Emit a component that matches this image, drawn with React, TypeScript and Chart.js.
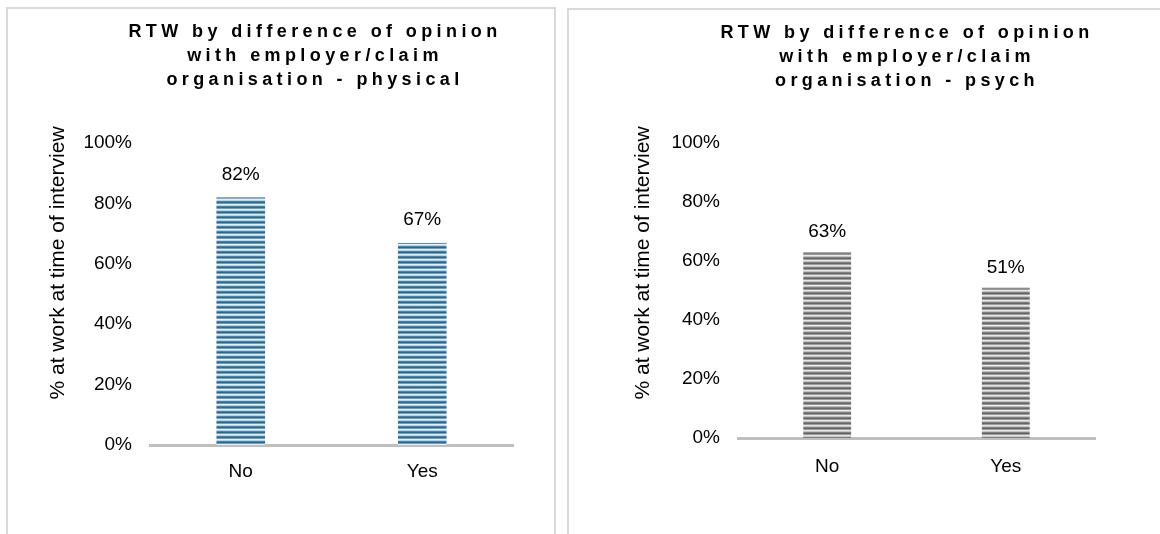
import React, { useEffect, useRef } from "react";
import { Chart, registerables } from "chart.js";

Chart.register(...registerables);

const categories = ["No", "Yes"];
const physicalValues = [0.82, 0.67];
const psychValues = [0.63, 0.51];
const yTickValues = [0, 0.2, 0.4, 0.6, 0.8, 1];
const physicalTitle = ["RTW by difference of opinion", "with employer/claim", "organisation - physical"];
const psychTitle = ["RTW by difference of opinion", "with employer/claim", "organisation - psych"];
const yAxisTitle = "% at work at time of interview";

const FONT = "'Liberation Sans', Arial, sans-serif";
const TEXT_SIZE = 19;

const blueStripes = ["#2b6890", "#6d9fbe", "#e4eff6", "#b7d2e3", "#4a82a8"];
const grayStripes = ["#666666", "#9a9a9a", "#e8e8e8", "#c4c4c4", "#808080"];

function makePattern(ctx: CanvasRenderingContext2D, colors: string[]) {
  const tile = document.createElement("canvas");
  tile.width = 4;
  tile.height = colors.length;
  const t = tile.getContext("2d")!;
  colors.forEach((c, i) => {
    t.fillStyle = c;
    t.fillRect(0, i, 4, 1);
  });
  return ctx.createPattern(tile, "repeat")!;
}

type PanelProps = {
  title: string[];
  values: number[];
  stripes: string[];
  edge: string;
  left: number;
  top: number;
  width: number;
  canvasW: number;
  yWidth: number;
  rightPad: number;
  topPad: number;
  xHeight: number;
  titleCenter: number;
  yTitleX: number;
  yTitleY: number;
  labelOffset: number;
  xPad: number;
};

function Panel(p: PanelProps) {
  const ref = useRef<HTMLCanvasElement>(null);
  useEffect(() => {
    const canvas = ref.current!;
    const ctx = canvas.getContext("2d")!;
    const pattern = makePattern(ctx, p.stripes);
    const valueLabels = {
      id: "valueLabels",
      afterDatasetsDraw(chart: any) {
        const c = chart.ctx;
        const meta = chart.getDatasetMeta(0);
        c.save();
        c.font = `${TEXT_SIZE}px ${FONT}`;
        c.fillStyle = "#000";
        c.textAlign = "center";
        c.textBaseline = "middle";
        meta.data.forEach((bar: any, i: number) => {
          c.fillText(Math.round(p.values[i] * 100) + "%", bar.x, bar.y - p.labelOffset);
        });
        c.restore();
      },
    };
    const yTitle = {
      id: "yTitle",
      afterDraw(chart: any) {
        const c = chart.ctx;
        c.save();
        c.font = `${TEXT_SIZE + 2}px ${FONT}`;
        c.fillStyle = "#000";
        c.textAlign = "center";
        c.textBaseline = "middle";
        c.translate(p.yTitleX, p.yTitleY);
        c.rotate(-Math.PI / 2);
        c.fillText(yAxisTitle, 0, 0);
        c.restore();
      },
    };
    const chart = new Chart(ctx, {
      type: "bar",
      data: {
        labels: categories,
        datasets: [
          {
            data: p.values,
            backgroundColor: pattern,
            borderColor: p.edge,
            borderWidth: { top: 1, left: 0, right: 0, bottom: 0 },
            barPercentage: 0.27,
            categoryPercentage: 1,
          },
        ],
      },
      options: {
        responsive: false,
        animation: false,
        maintainAspectRatio: false,
        layout: { padding: { left: 0, right: p.rightPad, top: p.topPad, bottom: 0 } },
        plugins: { legend: { display: false }, tooltip: { enabled: false }, title: { display: false } },
        scales: {
          x: {
            grid: { display: false, drawTicks: false },
            border: { display: true, color: "#bfbfbf", width: 3 },
            ticks: { font: { family: FONT, size: TEXT_SIZE }, color: "#000", padding: p.xPad },
            afterFit: (s: any) => {
              s.height = p.xHeight;
            },
          },
          y: {
            min: 0,
            max: 1,
            afterBuildTicks: (s: any) => {
              s.ticks = yTickValues.map((v) => ({ value: v }));
            },
            ticks: {
              callback: (v: any) => Math.round(Number(v) * 100) + "%",
              font: { family: FONT, size: TEXT_SIZE },
              color: "#000",
              padding: 18,
            },
            grid: { display: false, drawTicks: false },
            border: { display: false },
            afterFit: (s: any) => {
              s.width = p.yWidth;
            },
          },
        },
      },
      plugins: [valueLabels, yTitle],
    });
    return () => chart.destroy();
  }, []);

  return (
    <div
      style={{
        position: "absolute",
        left: p.left,
        top: p.top,
        width: p.width,
        height: 600,
        border: "2px solid #d9d9d9",
        boxSizing: "border-box",
        background: "#fff",
      }}
    >
      <canvas
        ref={ref}
        width={p.canvasW}
        height={534 - p.top}
        style={{ position: "absolute", left: -2, top: -2, width: p.canvasW, height: 534 - p.top }}
      />
      <div
        style={{
          position: "absolute",
          left: p.titleCenter - 250,
          width: 500,
          top: 10,
          textAlign: "center",
          fontFamily: FONT,
          fontWeight: "bold",
          fontSize: 18,
          letterSpacing: 4.4,
          lineHeight: "24px",
          color: "#000",
        }}
      >
        {p.title.map((l, i) => (
          <div key={i}>{l}</div>
        ))}
      </div>
    </div>
  );
}

export default function App() {
  return (
    <div style={{ position: "fixed", left: 0, top: 0, width: 1160, height: 534, overflow: "hidden", background: "#fff" }}>
      <Panel
        title={physicalTitle}
        values={physicalValues}
        stripes={blueStripes}
        edge="#2b6890"
        left={6}
        top={7}
        width={550}
        canvasW={550}
        yWidth={150 - 6}
        rightPad={550 - (513 - 6)}
        topPad={143 - 7}
        xHeight={534 - 445}
        titleCenter={313 - 6}
        yTitleX={58 - 6}
        yTitleY={263 - 7}
        labelOffset={23}
        xPad={15}
      />
      <Panel
        title={psychTitle}
        values={psychValues}
        stripes={grayStripes}
        edge="#666666"
        left={567}
        top={8}
        width={600}
        canvasW={593}
        yWidth={738 - 567}
        rightPad={593 - (1095 - 567)}
        topPad={143 - 8}
        xHeight={534 - 438}
        titleCenter={905 - 567}
        yTitleX={643 - 567}
        yTitleY={263 - 8}
        labelOffset={20}
        xPad={17}
      />
    </div>
  );
}
